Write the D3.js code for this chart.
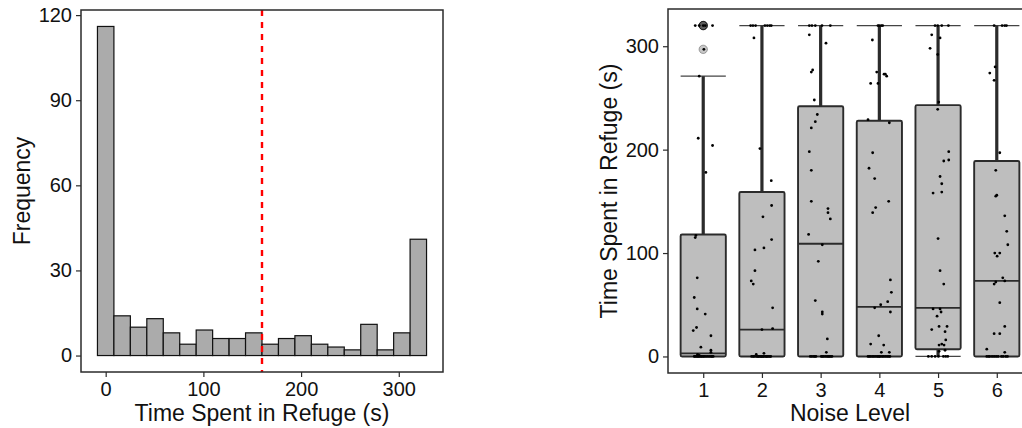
<!DOCTYPE html>
<html>
<head>
<meta charset="utf-8">
<script src="https://cdn.jsdelivr.net/npm/d3@7"></script>
<style>
  body { margin: 0; background: #fff; }
  svg text { font-family: "Liberation Sans", Arial, sans-serif; }
</style>
</head>
<body>
<svg id="chart" width="1022" height="428"></svg>
<script>
// ---- Histogram: time spent in refuge (20 bins over 0–320 s) ----
const histCounts = [116, 14, 10, 13, 8, 4, 9, 6, 6, 8, 4, 6, 7, 4, 3, 2, 11, 2, 8, 41];
const timeMin = 0;
const timeMax = 320;
const thresholdTime = 160;
const histXTicks = [0, 100, 200, 300];
const histYTicks = [0, 30, 60, 90, 120];

// ---- Boxplots: time in refuge by noise level ----
const noiseLevels = ["1", "2", "3", "4", "5", "6"];
const boxQ1 = [0, 0, 0, 0, 7, 0];
const boxMedian = [3, 26, 109, 48, 47, 73];
const boxQ3 = [118, 159, 242, 228, 243, 189];
const whiskerLow = [0, 0, 0, 0, 0, 0];
const whiskerHigh = [271, 320, 320, 320, 320, 320];
const boxOutliers = [[320, 320, 320, 320, 297], [], [], [], [], []];
const boxYTicks = [0, 100, 200, 300];

// jittered observations per noise level: [horizontal jitter (fraction of a step), seconds]
const pointsLevel1 = [
  [-0.136, 320], [-0.068, 320], [0.000, 320], [0.034, 320], [0.159, 320], [0.011, 297],
  [-0.068, 271], [-0.085, 211], [0.159, 204], [0.045, 178], [-0.125, 117], [-0.136, 115],
  [-0.102, 76], [-0.153, 57], [-0.102, 46], [0.034, 41], [-0.114, 28], [-0.170, 25],
  [0.131, 20], [-0.040, 9], [0.131, 6], [0.131, 4], [-0.097, 2], [-0.068, 1],
  [-0.153, 0], [-0.136, 0], [-0.114, 0], [-0.097, 0], [-0.080, 0], [-0.063, 0], [-0.040, 0],
  [-0.023, 0], [0.000, 0], [0.017, 0], [0.045, 0], [0.074, 0], [0.102, 0], [0.131, 0],
  [0.150, 0], [0.170, 0]
];
const pointsLevel2 = [
  [-0.193, 320], [-0.153, 320], [-0.108, 320], [0.051, 320], [0.091, 320], [0.131, 320], [0.159, 320],
  [-0.136, 308], [-0.034, 201], [0.159, 170], [0.165, 146], [0.017, 135], [0.165, 113],
  [-0.119, 103], [0.034, 105], [-0.119, 83], [-0.182, 73], [-0.148, 70], [0.182, 47],
  [0.182, 27], [0.000, 26], [-0.097, 2], [0.034, 3],
  [-0.176, 0], [-0.131, 0], [-0.097, 0], [-0.063, 0], [-0.045, 0], [-0.023, 0], [0.000, 0],
  [0.034, 0], [0.063, 0], [0.091, 0], [0.110, 0], [0.136, 0], [0.150, 0], [-0.150, 0],
  [0.075, 0], [-0.075, 0], [0.020, 0], [-0.010, 0]
];
const pointsLevel3 = [
  [-0.193, 320], [-0.148, 320], [-0.091, 320], [0.023, 320], [0.165, 320],
  [-0.193, 311], [0.091, 303], [-0.136, 277], [-0.159, 275], [-0.108, 248], [-0.057, 234],
  [-0.091, 227], [-0.159, 221], [-0.193, 198], [-0.159, 180], [-0.159, 150], [0.125, 143],
  [0.125, 139], [0.165, 133], [-0.205, 118], [0.028, 108], [-0.040, 92], [-0.091, 54],
  [0.028, 43], [0.028, 41], [0.114, 17], [0.097, 4],
  [-0.176, 0], [-0.150, 0], [-0.119, 0], [-0.100, 0], [-0.080, 0], [0.011, 0], [0.030, 0],
  [0.051, 0], [0.080, 0], [0.108, 0], [0.130, 0], [0.148, 0], [0.170, 0], [0.193, 0]
];
const pointsLevel4 = [
  [-0.023, 320], [0.000, 320], [0.034, 320], [0.057, 320],
  [-0.119, 306], [-0.045, 275], [0.102, 273], [0.125, 271], [0.080, 273], [-0.148, 264],
  [-0.023, 264], [-0.193, 229], [0.170, 226], [-0.114, 197], [-0.176, 182], [-0.080, 172],
  [0.159, 150], [-0.063, 144], [-0.114, 139], [0.188, 74], [0.205, 62], [0.142, 53],
  [0.023, 50], [-0.080, 47], [0.188, 43], [-0.011, 20], [-0.148, 12], [0.074, 11],
  [0.034, 4], [0.170, 4],
  [-0.193, 0], [-0.170, 0], [-0.148, 0], [-0.120, 0], [-0.097, 0], [-0.070, 0], [-0.040, 0],
  [-0.020, 0], [0.000, 0], [0.045, 0], [0.070, 0], [0.100, 0], [0.131, 0], [0.159, 0],
  [0.180, 0], [0.010, 0]
];
const pointsLevel5 = [
  [-0.051, 320], [-0.006, 320], [0.063, 320], [0.176, 320],
  [-0.108, 311], [0.034, 308], [-0.136, 298], [-0.006, 292], [0.011, 246], [-0.006, 239],
  [0.182, 198], [0.097, 189], [0.182, 190], [0.034, 174], [0.063, 167], [0.063, 159],
  [-0.085, 158], [0.000, 114], [0.034, 83], [0.097, 70], [-0.085, 46], [0.034, 46],
  [0.051, 43], [-0.017, 39], [-0.108, 26], [0.017, 29], [0.153, 29], [0.119, 24],
  [0.131, 16], [0.017, 11], [0.102, 11], [0.063, 12], [0.119, 6], [0.017, 5],
  [-0.165, 0], [-0.108, 0], [-0.050, 0], [0.006, 0], [0.091, 0], [0.165, 0], [0.130, 0]
];
const pointsLevel6 = [
  [-0.045, 320], [0.091, 320], [0.136, 320], [0.165, 320],
  [-0.028, 280], [-0.119, 274], [-0.045, 267], [0.051, 197], [-0.017, 180], [0.000, 156],
  [-0.017, 155], [0.136, 136], [0.170, 121], [0.188, 108], [-0.034, 100], [0.051, 100],
  [0.006, 97], [0.102, 76], [0.136, 73], [-0.017, 72], [-0.045, 70], [0.051, 52],
  [0.136, 29], [-0.045, 22], [0.051, 22], [-0.170, 7], [0.136, 4],
  [-0.170, 0], [-0.140, 0], [-0.119, 0], [-0.080, 0], [-0.045, 0], [-0.010, 0], [0.023, 0],
  [0.080, 0], [0.110, 0], [0.153, 0], [0.182, 0]
];
const pointsByLevel = [pointsLevel1, pointsLevel2, pointsLevel3, pointsLevel4, pointsLevel5, pointsLevel6];

// ---- shared styling ----
const ink = "#2b2b2b";
const tickFont = 20;
const titleFont = 23;
const svg = d3.select("#chart");
svg.append("rect").attr("width", 1022).attr("height", 428).attr("fill", "#fff");

function styleAxis(g) {
  g.select(".domain").remove();
  g.selectAll(".tick line").attr("stroke", ink).attr("stroke-width", 1.2);
  g.selectAll(".tick text").attr("fill", "#111").attr("font-size", tickFont)
    .attr("font-family", "'Liberation Sans', Arial, sans-serif");
}

// =============== left panel: histogram ===============
const hp = { left: 81, right: 443, top: 10, bottom: 372 };
const binW = (timeMax - timeMin) / (histCounts.length - 1);
const bins = histCounts.map((c, i) => ({
  x0: timeMin - binW / 2 + i * binW,
  x1: timeMin + binW / 2 + i * binW,
  count: c
}));
const hxLo = bins[0].x0, hxHi = bins[bins.length - 1].x1;
const hxPad = (hxHi - hxLo) * 0.05;
const xHist = d3.scaleLinear().domain([hxLo - hxPad, hxHi + hxPad]).range([hp.left, hp.right]);
const cMax = d3.max(histCounts);
const yHist = d3.scaleLinear().domain([-cMax * 0.05, cMax * 1.05]).range([hp.bottom, hp.top]);

svg.append("g").selectAll("rect").data(bins).join("rect")
  .attr("x", d => xHist(d.x0))
  .attr("y", d => yHist(d.count))
  .attr("width", d => xHist(d.x1) - xHist(d.x0))
  .attr("height", d => yHist(0) - yHist(d.count))
  .attr("fill", "#ababab")
  .attr("stroke", "#111")
  .attr("stroke-width", 1.2);

svg.append("line")
  .attr("x1", xHist(thresholdTime)).attr("x2", xHist(thresholdTime))
  .attr("y1", hp.top).attr("y2", hp.bottom)
  .attr("stroke", "#ff0000").attr("stroke-width", 2.4)
  .attr("stroke-dasharray", "6,6");

svg.append("rect")
  .attr("x", hp.left).attr("y", hp.top)
  .attr("width", hp.right - hp.left).attr("height", hp.bottom - hp.top)
  .attr("fill", "none").attr("stroke", ink).attr("stroke-width", 1.5);

svg.append("g").attr("transform", `translate(${hp.left},0)`)
  .call(d3.axisLeft(yHist).tickValues(histYTicks).tickSize(5).tickPadding(4))
  .call(styleAxis);
svg.append("g").attr("transform", `translate(0,${hp.bottom})`)
  .call(d3.axisBottom(xHist).tickValues(histXTicks).tickSize(5).tickPadding(5))
  .call(styleAxis);

svg.append("text")
  .attr("x", (hp.left + hp.right) / 2).attr("y", 421)
  .attr("text-anchor", "middle").attr("font-size", titleFont).attr("fill", "#111")
  .text("Time Spent in Refuge (s)");
svg.append("text")
  .attr("transform", `translate(30,${(hp.top + hp.bottom) / 2}) rotate(-90)`)
  .attr("text-anchor", "middle").attr("font-size", titleFont).attr("fill", "#111")
  .text("Frequency");

// =============== right panel: boxplots ===============
const bp = { left: 668, right: 1032, top: 9, bottom: 373 };
const xBox = d3.scalePoint().domain(noiseLevels).range([bp.left, bp.right]).padding(0.6);
const tMax = d3.max(whiskerHigh.concat(boxOutliers.flat()));
const yPad = (tMax - timeMin) * 0.05;
const yBox = d3.scaleLinear().domain([timeMin - yPad, tMax + yPad]).range([bp.bottom, bp.top]);
const boxW = xBox.step() * 0.77;

const boxes = noiseLevels.map((lvl, i) => ({
  lvl, q1: boxQ1[i], med: boxMedian[i], q3: boxQ3[i],
  lo: whiskerLow[i], hi: whiskerHigh[i], out: boxOutliers[i], pts: pointsByLevel[i]
}));

const gBox = svg.append("g");
boxes.forEach(b => {
  const cx = xBox(b.lvl);
  // whisker caps
  [b.lo, b.hi].forEach(v => {
    gBox.append("line")
      .attr("x1", cx - boxW / 2).attr("x2", cx + boxW / 2)
      .attr("y1", yBox(v)).attr("y2", yBox(v))
      .attr("stroke", "#444").attr("stroke-width", 1.3);
  });
  // whiskers
  gBox.append("line")
    .attr("x1", cx).attr("x2", cx).attr("y1", yBox(b.q3)).attr("y2", yBox(b.hi))
    .attr("stroke", ink).attr("stroke-width", 3.2);
  gBox.append("line")
    .attr("x1", cx).attr("x2", cx).attr("y1", yBox(b.lo)).attr("y2", yBox(b.q1))
    .attr("stroke", ink).attr("stroke-width", 3.2);
  // box
  gBox.append("rect")
    .attr("x", cx - boxW / 2).attr("y", yBox(b.q3))
    .attr("width", boxW).attr("height", yBox(b.q1) - yBox(b.q3))
    .attr("fill", "#bebebe").attr("stroke", ink).attr("stroke-width", 1.9)
    .attr("stroke-linejoin", "round").attr("rx", 1.5);
  gBox.append("line")
    .attr("x1", cx - boxW / 2).attr("x2", cx + boxW / 2)
    .attr("y1", yBox(b.med)).attr("y2", yBox(b.med))
    .attr("stroke", ink).attr("stroke-width", 1.8);
  // outliers
  b.out.forEach(v => {
    gBox.append("circle")
      .attr("cx", cx).attr("cy", yBox(v)).attr("r", 4.2)
      .attr("fill", "#000").attr("fill-opacity", 0.22)
      .attr("stroke", "#000").attr("stroke-opacity", 0.3).attr("stroke-width", 1);
  });
});

// jittered observations
const gPts = svg.append("g");
boxes.forEach(b => {
  const cx = xBox(b.lvl);
  gPts.selectAll(null).data(b.pts).join("circle")
    .attr("cx", d => cx + d[0] * xBox.step())
    .attr("cy", d => yBox(d[1]))
    .attr("r", 1.4)
    .attr("fill", "#000");
});

svg.append("rect")
  .attr("x", bp.left).attr("y", bp.top)
  .attr("width", bp.right - bp.left).attr("height", bp.bottom - bp.top)
  .attr("fill", "none").attr("stroke", ink).attr("stroke-width", 1.5);

svg.append("g").attr("transform", `translate(${bp.left},0)`)
  .call(d3.axisLeft(yBox).tickValues(boxYTicks).tickSize(5).tickPadding(4))
  .call(styleAxis);
svg.append("g").attr("transform", `translate(0,${bp.bottom})`)
  .call(d3.axisBottom(xBox).tickSize(5).tickPadding(5))
  .call(styleAxis);

svg.append("text")
  .attr("x", (bp.left + bp.right) / 2).attr("y", 421)
  .attr("text-anchor", "middle").attr("font-size", titleFont).attr("fill", "#111")
  .text("Noise Level");
svg.append("text")
  .attr("transform", `translate(617,${(bp.top + bp.bottom) / 2}) rotate(-90)`)
  .attr("text-anchor", "middle").attr("font-size", titleFont).attr("fill", "#111")
  .text("Time Spent in Refuge (s)");
</script>
</body>
</html>
